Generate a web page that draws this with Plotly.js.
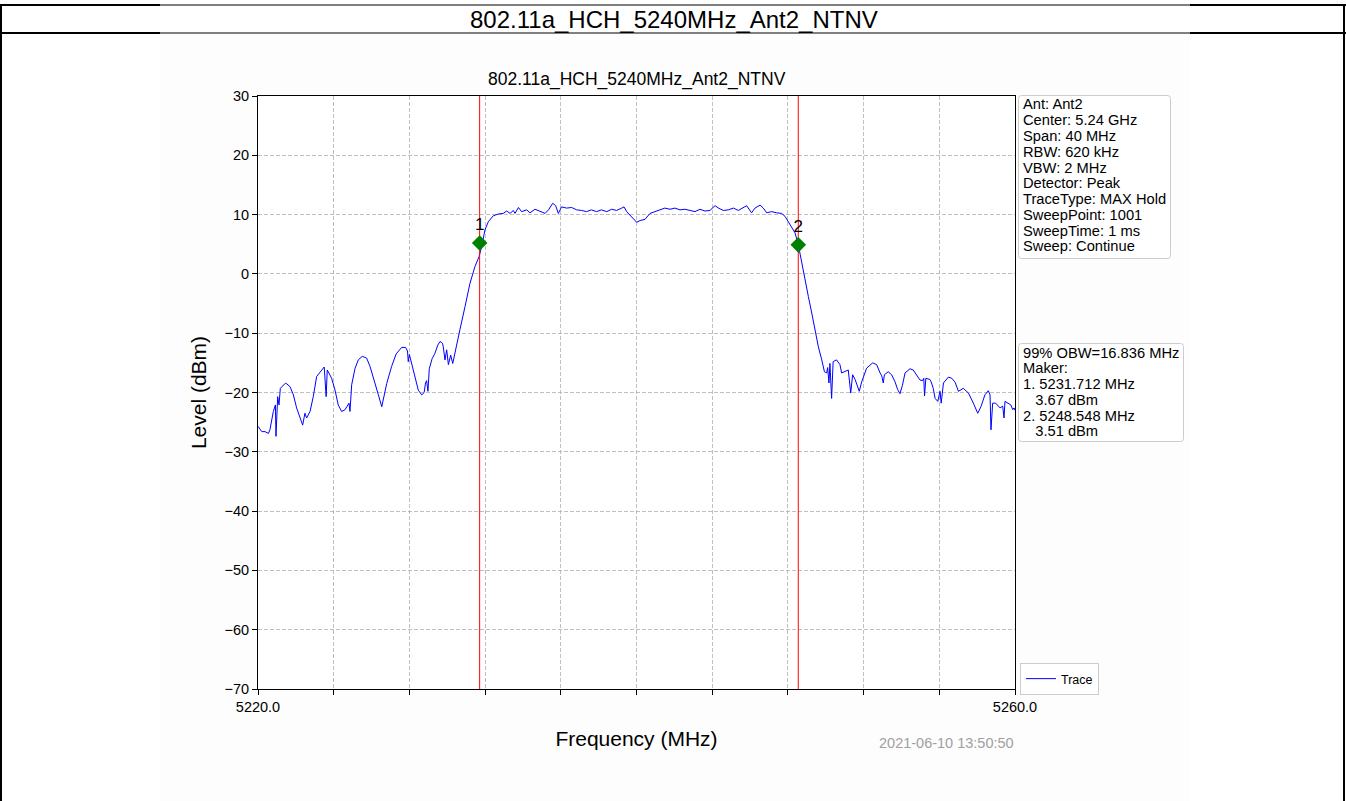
<!DOCTYPE html>
<html>
<head>
<meta charset="utf-8">
<script src="https://cdn.plot.ly/plotly-3.0.1.min.js"></script>
<style>html,body{margin:0;padding:0;background:#fff;}#chart{width:1346px;height:801px;}</style>
</head>
<body>
<div id="chart"></div>
<script>
// ---------- data ----------
const freqMHz = [
5220.00,5220.20,5220.37,5220.55,5220.63,5220.81,5220.92,5220.95,5221.04,5221.11,5221.18,5221.46,5221.69,5221.87,
5222.04,5222.22,5222.36,5222.48,5222.57,5222.75,5222.92,5223.10,5223.28,5223.50,5223.60,5223.66,5223.89,5224.07,
5224.24,5224.42,5224.60,5224.81,5224.86,5224.95,5225.13,5225.30,5225.51,5225.74,5225.92,5226.09,5226.18,5226.36,
5226.54,5226.60,5226.80,5227.06,5227.30,5227.59,5227.80,5227.90,5227.94,5228.00,5228.15,5228.30,5228.47,5228.65,
5228.78,5228.85,5228.91,5228.98,5229.05,5229.20,5229.35,5229.50,5229.62,5229.75,5229.79,5229.88,5229.97,5230.06,
5230.18,5230.29,5230.41,5230.53,5230.67,5230.94,5231.20,5231.46,5231.68,5231.82,5231.99,5232.17,5232.43,5232.70,
5232.96,5233.14,5233.32,5233.49,5233.58,5233.76,5233.93,5234.20,5234.37,5234.64,5234.90,5235.17,5235.35,5235.57,
5235.73,5235.87,5236.04,5236.31,5236.57,5236.84,5237.10,5237.36,5237.62,5237.89,5238.15,5238.43,5238.69,5238.95,
5239.22,5239.34,5239.48,5239.66,5239.83,5240.01,5240.19,5240.45,5240.71,5240.98,5241.24,5241.50,5241.77,5242.03,
5242.30,5242.56,5242.83,5243.09,5243.35,5243.62,5243.88,5244.15,5244.33,5244.59,5244.85,5245.12,5245.38,5245.65,
5245.82,5246.08,5246.26,5246.53,5246.70,5246.88,5247.14,5247.41,5247.67,5247.85,5248.02,5248.20,5248.38,5248.55,
5248.73,5248.91,5249.08,5249.26,5249.43,5249.61,5249.79,5249.93,5250.05,5250.10,5250.17,5250.22,5250.31,5250.39,
5250.57,5250.75,5250.84,5251.00,5251.19,5251.32,5251.42,5251.55,5251.65,5251.77,5251.90,5252.16,5252.48,5252.69,
5252.87,5252.96,5253.04,5253.10,5253.30,5253.48,5253.66,5253.80,5253.92,5254.05,5254.19,5254.45,5254.62,5254.80,
5254.98,5255.12,5255.18,5255.22,5255.29,5255.50,5255.57,5255.68,5255.78,5255.92,5256.04,5256.10,5256.22,5256.48,
5256.66,5256.84,5257.01,5257.27,5257.54,5257.80,5258.03,5258.20,5258.33,5258.41,5258.59,5258.68,5258.73,5258.82,
5258.98,5259.21,5259.35,5259.42,5259.47,5259.65,5259.78,5259.88,5259.95,5260.00];
const levelDBm = [
-25.7,-26.6,-26.6,-26.9,-26.3,-23.2,-22.1,-27.4,-20.7,-22.1,-19.3,-18.4,-19.0,-20.4,
-22.6,-24.1,-25.5,-23.5,-24.3,-23.2,-20.7,-17.3,-16.5,-15.7,-20.7,-16.2,-17.6,-19.6,
-22.1,-23.2,-22.9,-21.8,-23.2,-18.7,-15.9,-14.5,-13.9,-14.2,-15.6,-17.6,-18.7,-20.4,
-22.4,-21.5,-18.5,-15.6,-13.5,-12.4,-12.4,-13.0,-14.8,-13.6,-15.5,-17.6,-19.6,-20.4,
-20.0,-18.4,-18.0,-19.8,-16.0,-14.3,-13.4,-12.0,-11.4,-11.7,-12.3,-14.5,-12.8,-15.3,
-13.7,-15.1,-13.1,-11.7,-9.4,-5.5,-1.6,1.2,2.9,4.6,7.4,8.8,9.8,10.1,
10.2,10.6,10.2,10.7,10.2,11.2,10.5,10.8,10.3,10.9,10.5,10.2,10.8,11.9,
11.5,10.2,11.3,11.1,11.2,10.8,10.7,10.5,10.8,10.5,10.8,10.5,10.9,10.7,
11.1,11.3,10.5,9.9,9.4,8.7,9.0,9.2,10.2,10.5,10.8,11.1,10.9,11.1,
10.8,10.9,10.7,10.5,10.9,10.6,10.7,11.5,11.1,10.7,10.8,11.1,10.7,11.2,
11.5,10.3,11.1,11.6,11.1,10.3,10.5,10.3,10.2,9.7,8.8,8.0,6.9,4.9,
1.8,-1.0,-3.8,-6.6,-9.4,-12.3,-14.5,-16.5,-16.7,-15.8,-18.4,-15.1,-21.0,-14.8,
-14.5,-15.3,-16.7,-16.5,-16.2,-20.1,-17.0,-17.8,-18.9,-19.8,-18.2,-15.9,-15.0,-15.3,
-16.7,-17.2,-18.4,-17.0,-16.5,-17.0,-18.2,-19.5,-20.2,-18.8,-16.7,-16.0,-16.2,-17.0,
-17.9,-18.0,-17.6,-20.6,-17.6,-17.8,-18.2,-19.3,-21.0,-21.5,-19.8,-21.8,-18.4,-17.4,
-17.6,-18.3,-19.8,-19.3,-20.1,-21.8,-23.5,-22.4,-21.0,-20.4,-19.7,-20.4,-26.3,-21.8,
-21.8,-22.6,-22.3,-24.3,-21.5,-21.8,-22.1,-22.9,-22.6,-23.0];
const markerFreq = [5231.712, 5248.548];
const markerLevel = [5.2, 4.9];
const markerLabels = ["1", "2"];
const xTickVals = [5220,5224,5228,5232,5236,5240,5244,5248,5252,5256,5260];
const xTickText = ["5220.0","","","","","","","","","","5260.0"];
const yTickVals = [30,20,10,0,-10,-20,-30,-40,-50,-60,-70];
const yRange = [-70, 30];
const xRange = [5220, 5260];
const headerText = "802.11a_HCH_5240MHz_Ant2_NTNV";
const chartTitle = "802.11a_HCH_5240MHz_Ant2_NTNV";
const infoLines = ["Ant: Ant2","Center: 5.24 GHz","Span: 40 MHz","RBW: 620 kHz","VBW: 2 MHz","Detector: Peak","TraceType: MAX Hold","SweepPoint: 1001","SweepTime: 1 ms","Sweep: Continue"];
const obwLines = ["99% OBW=16.836 MHz","Maker:","1. 5231.712 MHz","   3.67 dBm","2. 5248.548 MHz","   3.51 dBm"];
const timestamp = "2021-06-10 13:50:50";

// ---------- layout geometry ----------
const W = 1346, H = 801;
const L = 258, R = 1015, T = 96, B = 689;
const px = x => (x - L) / (R - L);
const py = y => (B - y) / (B - T);
const FONT = "Liberation Sans, Arial, sans-serif";

const traces = [
  {x: freqMHz, y: levelDBm, type: 'scatter', mode: 'lines', name: 'Trace',
   line: {color: '#0000ff', width: 1}, showlegend: true},
];
markerFreq.forEach((f, i) => {
  traces.push({x: [f, f], y: yRange, type: 'scatter', mode: 'lines',
    line: {color: '#ff0000', width: 1}, showlegend: false, hoverinfo: 'skip'});
});
traces.push({x: markerFreq, y: markerLevel, type: 'scatter', mode: 'markers+text',
  text: markerLabels, textposition: 'top center',
  textfont: {family: FONT, size: 17, color: '#000'},
  marker: {symbol: 'diamond', size: 12, color: '#008000'}, showlegend: false});

// rounded box path in paper coords from pixel rectangle
function roundBox(x0, y0, x1, y1, r) {
  const X = v => px(v), Y = v => py(v);
  return `M${X(x0+r)},${Y(y0)} L${X(x1-r)},${Y(y0)} Q${X(x1)},${Y(y0)} ${X(x1)},${Y(y0+r)} ` +
         `L${X(x1)},${Y(y1-r)} Q${X(x1)},${Y(y1)} ${X(x1-r)},${Y(y1)} L${X(x0+r)},${Y(y1)} ` +
         `Q${X(x0)},${Y(y1)} ${X(x0)},${Y(y1-r)} L${X(x0)},${Y(y0+r)} Q${X(x0)},${Y(y0)} ${X(x0+r)},${Y(y0)} Z`;
}

const shapes = [
  // figure image background
  {type:'rect', xref:'paper', yref:'paper', x0:px(160), x1:px(1190), y0:py(34), y1:py(801),
   fillcolor:'#fdfdfd', line:{width:0}, layer:'below'},
  {type:'rect', xref:'paper', yref:'paper', x0:0, x1:1, y0:0, y1:1,
   fillcolor:'#ffffff', line:{width:0}, layer:'below'},
  // table frame
  {type:'line', xref:'paper', yref:'paper', x0:px(0), x1:px(1346), y0:py(5), y1:py(5), line:{color:'#000', width:1}},
  {type:'line', xref:'paper', yref:'paper', x0:px(0), x1:px(160), y0:py(5), y1:py(5), line:{color:'#000', width:2}},
  {type:'line', xref:'paper', yref:'paper', x0:px(1190), x1:px(1346), y0:py(5), y1:py(5), line:{color:'#000', width:2}},
  {type:'line', xref:'paper', yref:'paper', x0:px(0), x1:px(1346), y0:py(33), y1:py(33), line:{color:'#000', width:1}},
  {type:'line', xref:'paper', yref:'paper', x0:px(0), x1:px(160), y0:py(33), y1:py(33), line:{color:'#000', width:2}},
  {type:'line', xref:'paper', yref:'paper', x0:px(1190), x1:px(1346), y0:py(33), y1:py(33), line:{color:'#000', width:2}},
  {type:'line', xref:'paper', yref:'paper', x0:px(1), x1:px(1), y0:py(5), y1:py(801), line:{color:'#000', width:2}},
  {type:'line', xref:'paper', yref:'paper', x0:px(1344), x1:px(1344), y0:py(5), y1:py(801), line:{color:'#000', width:2}},
  // info boxes
  {type:'path', xref:'paper', yref:'paper', path: roundBox(1018.5, 95.5, 1170.5, 258.5, 3),
   fillcolor:'#ffffff', line:{color:'#cccccc', width:1}},
  {type:'path', xref:'paper', yref:'paper', path: roundBox(1018.5, 343.5, 1183.5, 441.5, 3),
   fillcolor:'#ffffff', line:{color:'#cccccc', width:1}},
];

const BOXFONT = {family: FONT, size: 14.7, color: '#000'};
const annotations = [
  {text: headerText, xref:'paper', yref:'paper', x: px(674), y: py(19), xanchor:'center', yanchor:'middle',
   showarrow:false, font:{family:FONT, size:24, color:'#000'}},
  {text: chartTitle, xref:'paper', yref:'paper', x: 0.5, y: py(79), xanchor:'center', yanchor:'middle',
   showarrow:false, font:{family:FONT, size:17.5, color:'#000'}},
  {text: timestamp, xref:'paper', yref:'paper', x: px(1016), y: py(743), xanchor:'right', yanchor:'middle',
   showarrow:false, font:{family:FONT, size:14.5, color:'#a0a0a0'}},
];
infoLines.forEach((s, i) => annotations.push({text: s, xref:'paper', yref:'paper', x: px(1021), y: py(104.5 + i * 15.75),
  xanchor:'left', yanchor:'middle', showarrow:false, font: BOXFONT}));
obwLines.forEach((s, i) => annotations.push({text: s.replace(/ /g, '\u00a0'), xref:'paper', yref:'paper', x: px(1021), y: py(352.5 + i * 15.75),
  xanchor:'left', yanchor:'middle', showarrow:false, font: BOXFONT}));

const layout = {
  width: W, height: H,
  margin: {l: L, r: W - R, t: T, b: H - B, pad: 0},
  paper_bgcolor: '#ffffff', plot_bgcolor: 'rgba(0,0,0,0)',
  showlegend: true,
  legend: {x: px(1020), y: py(663), xanchor:'left', yanchor:'top', bgcolor:'#ffffff', bordercolor:'#cccccc', borderwidth:1,
    font:{family:FONT, size:12.5, color:'#000'}, itemwidth: 30},
  xaxis: {range: xRange, tickmode:'array', tickvals: xTickVals, ticktext: xTickText,
    showgrid:true, gridcolor:'#b0b0b0', griddash:'4px,2px', gridwidth:0.8,
    showline:true, linecolor:'#000', linewidth:1, mirror:true, zeroline:false,
    ticks:'outside', ticklen:5, tickcolor:'#000', tickfont:{family:FONT, size:14.5, color:'#000'},
    title:{text:'Frequency (MHz)', font:{family:FONT, size:21, color:'#000'}, standoff: 16}},
  yaxis: {range: yRange, tickmode:'array', tickvals: yTickVals, ticktext: yTickVals.map(v => v < 0 ? '\u2212' + Math.abs(v) : String(v)),
    showgrid:true, gridcolor:'#b0b0b0', griddash:'4px,2px', gridwidth:0.8,
    showline:true, linecolor:'#000', linewidth:1, mirror:true, zeroline:false,
    ticks:'outside', ticklen:5, tickcolor:'#000', tickfont:{family:FONT, size:14.5, color:'#000'},
    title:{text:'Level (dBm)', font:{family:FONT, size:21, color:'#000'}, standoff: 12}},
  shapes: shapes,
  annotations: annotations,
};

Plotly.newPlot('chart', traces, layout, {displayModeBar:false, staticPlot:true});
</script>
</body>
</html>
